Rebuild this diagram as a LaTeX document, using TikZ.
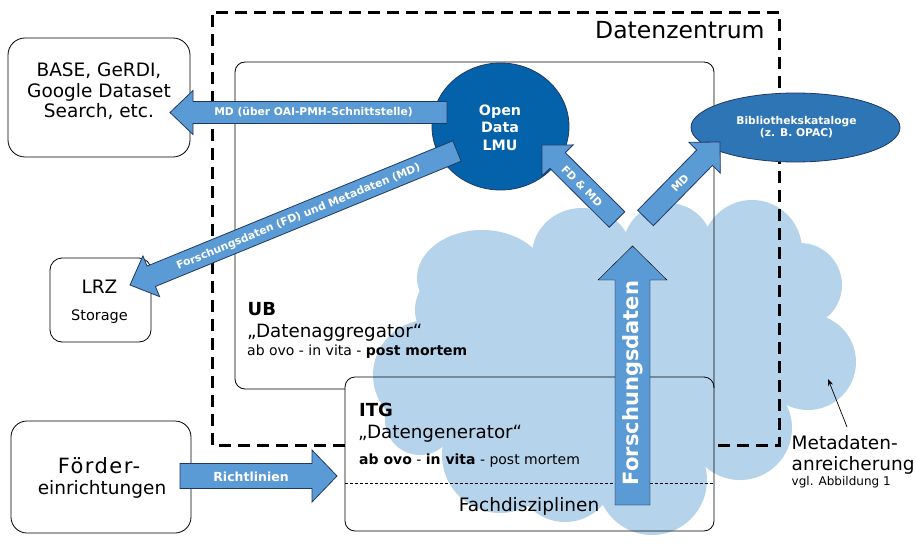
\documentclass[tikz,border=0pt]{standalone}
\usepackage{fontspec}
\setmainfont{DejaVu Sans}
\usetikzlibrary{calc,arrows.meta,shapes.geometric}

\definecolor{cloudblue}{RGB}{181,212,236}
\definecolor{arrowblue}{RGB}{91,155,213}
\definecolor{navy}{RGB}{32,56,100}
\definecolor{odlblue}{RGB}{4,98,170}
\definecolor{bibblue}{RGB}{46,117,182}

\newcommand{\fsz}[1]{\fontsize{#1pt}{#1pt}\selectfont}

% #1 name, #2 tail, #3 tip, #4 shaft half width, #5 head half width, #6 head length, #7 style
\newcommand{\blockarrow}[7]{%
  \coordinate (#1-b) at ($(#3)!#6!(#2)$);
  \draw[#7] ($(#2)!#4!90:(#3)$) -- ($(#1-b)!#4!90:(#3)$) -- ($(#1-b)!#5!90:(#3)$) -- (#3)
     -- ($(#1-b)!#5!-90:(#3)$) -- ($(#1-b)!#4!-90:(#3)$) -- ($(#2)!#4!-90:(#3)$) -- cycle;
}

\tikzset{
  box/.style={draw=black, line width=0.8pt, rounded corners=#1, shape=rectangle, inner sep=0pt},
  txt/.style={inner sep=0pt, anchor=base, text=black},
  txtl/.style={inner sep=0pt, anchor=base west, text=black},
  albl/.style={inner sep=0pt, text=white, font=\bfseries\fsz{10.7}},
  barrow/.style={fill=arrowblue, draw=navy, line width=0.8pt, line join=miter},
  zone/.style={draw=black, line width=3pt, dash pattern=on 12pt off 7pt},
}

\begin{document}
\begin{tikzpicture}[x=1pt,y=-1pt]
\path[use as bounding box, fill=white] (0,0) rectangle (916,546);

% ---------- cloud ----------
\fill[cloudblue] (482,278) ellipse[x radius=65pt, y radius=48pt];
\fill[cloudblue] (582,255) ellipse[x radius=50pt, y radius=47pt];
\fill[cloudblue] (668,248) circle[radius=45pt];
\fill[cloudblue] (752,250) circle[radius=50pt];
\fill[cloudblue] (800,285) circle[radius=42pt];
\fill[cloudblue] (808,362) circle[radius=48pt];
\fill[cloudblue] (740,428) circle[radius=52pt];
\fill[cloudblue] (652,480) circle[radius=55pt];
\fill[cloudblue] (565,472) circle[radius=50pt];
\fill[cloudblue] (500,455) circle[radius=58pt];
\fill[cloudblue] (420,420) circle[radius=35pt];
\fill[cloudblue] (428,375) circle[radius=55pt];
\fill[cloudblue] (455,310) circle[radius=40pt];
\fill[cloudblue] (482,278) -- (582,255) -- (668,248) -- (752,250) -- (800,285) -- (808,362)
  -- (740,428) -- (652,480) -- (565,472) -- (500,455) -- (420,420) -- (428,375) -- (455,310) -- cycle;

% ---------- UB and ITG frames ----------
\draw[line width=0.8pt, rounded corners=10pt] (345,389) -- (235,389) -- (235,62) -- (714,62) -- (714,388);
\node[box=10pt, minimum width=369pt, minimum height=154pt] (itg) at (529.5,454) {};
\draw[line width=0.6pt, dash pattern=on 3pt off 2pt] (itg.west |- 0,483) -- (itg.east |- 0,483);

% ---------- Datenzentrum ----------
\draw[zone] (345,445) -- (212,445) -- (212,12) -- (779,12) -- (779,445) -- (714,445);
\node[txtl, font=\fsz{23.5}] (dz) at (595,38) {Datenzentrum};

% ---------- outer boxes ----------
\node[box=17pt, minimum width=182pt, minimum height=119pt] (base) at (99,97.5) {};
\node[box=12pt, minimum width=101pt, minimum height=84pt] (lrz) at (100.5,300) {};
\node[box=16pt, minimum width=180pt, minimum height=112pt] (foerder) at (101,477) {};

% ---------- Open Data LMU and catalogues ----------
\node[ellipse, draw=navy, line width=0.8pt, fill=odlblue, minimum width=137pt, minimum height=127pt, inner sep=0pt] (odl) at (500.5,126.5) {};
\node[ellipse, draw=navy, line width=0.8pt, fill=bibblue, minimum width=209pt, minimum height=69pt, inner sep=0pt] (bib) at (795.5,127.5) {};

% ---------- block arrows ----------
\coordinate (md-tail) at (447,112.5);   \coordinate (md-tip) at (170,112.5);
\coordinate (lrz-tail) at (457,151);    \coordinate (lrz-tip) at (130,285);
\coordinate (fdmd-tail) at (617,219.5); \coordinate (fdmd-tip) at (542,145);
\coordinate (mdr-tail) at (645.5,218);  \coordinate (mdr-tip) at (720,142);
\coordinate (fd-tail) at (632.5,505);   \coordinate (fd-tip) at (632.5,246);
\coordinate (rl-tail) at (180,476);     \coordinate (rl-tip) at (337,476);

\blockarrow{mdA}{md-tail}{md-tip}{11pt}{22pt}{23pt}{barrow}
\blockarrow{lrzA}{lrz-tail}{lrz-tip}{11pt}{22pt}{23pt}{barrow}
\blockarrow{fdmdA}{fdmd-tail}{fdmd-tip}{11pt}{22pt}{22pt}{barrow}
\blockarrow{mdrA}{mdr-tail}{mdr-tip}{11pt}{22pt}{22pt}{barrow}
\blockarrow{fdA}{fd-tail}{fd-tip}{17.5pt}{34.5pt}{34pt}{fill=arrowblue}
\blockarrow{rlA}{rl-tail}{rl-tip}{12.5pt}{26pt}{25pt}{barrow}

\node[albl] (l-md) at (313.5,112.5) {MD (über OAI-PMH-Schnittstelle)};
\node[albl, rotate=22.3] (l-lrz) at (298.5,217) {Forschungsdaten (FD) und Metadaten (MD)};
\node[albl, rotate=-45] (l-fdmd) at (582,186) {FD \& MD};
\node[albl, rotate=45] (l-mdr) at (680,183) {MD};
\node[albl, rotate=90, font=\bfseries\fsz{21}] (l-fd) at (632.5,383) {Forschungsdaten};
\node[albl, font=\bfseries\fsz{12.5}] (l-rl) at (251,477) {Richtlinien};

% ---------- texts ----------
\node[txt, font=\fsz{18.5}] (t-base1) at (99,76.7) {BASE, GeRDI,};
\node[txt, font=\fsz{18.5}] (t-base2) at (99,97) {Google Dataset};
\node[txt, font=\fsz{18.5}] (t-base3) at (99,117.5) {Search, etc.};

\node[txt, font=\fsz{18.5}] (t-lrz1) at (99.5,293.3) {LRZ};
\node[txt, font=\fsz{14.5}] (t-lrz2) at (99.5,320) {Storage};

\node[txt, font=\fsz{21}\addfontfeature{LetterSpace=7}] (t-f1) at (99,473.5) {Förder-};
\node[txt, font=\fsz{18.5}] (t-f2) at (102,494) {einrichtungen};

\node[txt, text=white, font=\bfseries\fsz{14.3}] (t-odl1) at (500,115) {Open};
\node[txt, text=white, font=\bfseries\fsz{14.3}] (t-odl2) at (500,132.5) {Data};
\node[txt, text=white, font=\bfseries\fsz{14.3}] (t-odl3) at (500,150) {LMU};

\node[txt, text=white, font=\bfseries\fsz{10.7}] (t-bib1) at (796.5,124.3) {Bibliothekskataloge};
\node[txt, text=white, font=\bfseries\fsz{10.7}] (t-bib2) at (796.5,136.7) {(z. B. OPAC)};

\node[txtl, font=\bfseries\fsz{18}] (t-ub1) at (247.5,315) {UB};
\node[txtl, font=\fsz{18.3}] (t-ub2) at (247,337.7) {„Datenaggregator“};
\node[txtl, font=\fsz{14}] (t-ub3) at (247,355) {ab ovo - in vita - \textbf{post mortem}};

\node[txtl, font=\bfseries\fsz{18}] (t-itg1) at (359,416.7) {ITG};
\node[txtl, font=\fsz{18.3}] (t-itg2) at (358,438) {„Datengenerator“};
\node[txtl, font=\fsz{14}] (t-itg3) at (359,464) {\textbf{ab ovo} - \textbf{in vita} - post mortem};
\node[txt, font=\fsz{18.5}] (t-fach) at (529,511) {Fachdisziplinen};

\node[txtl, font=\fsz{18.5}] (t-meta1) at (791.5,449.5) {Metadaten-};
\node[txtl, font=\fsz{18.5}] (t-meta2) at (791.5,470) {anreicherung};
\node[txtl, font=\fsz{12}] (t-meta3) at (791.5,485) {vgl. Abbildung 1};

% ---------- pointer ----------
\coordinate (ptr-from) at (847,427);
\coordinate (ptr-to) at (828,379);
\draw[line width=0.7pt, -{Stealth[length=7pt, width=5.5pt]}] (ptr-from) -- (ptr-to);
\end{tikzpicture}
\end{document}
